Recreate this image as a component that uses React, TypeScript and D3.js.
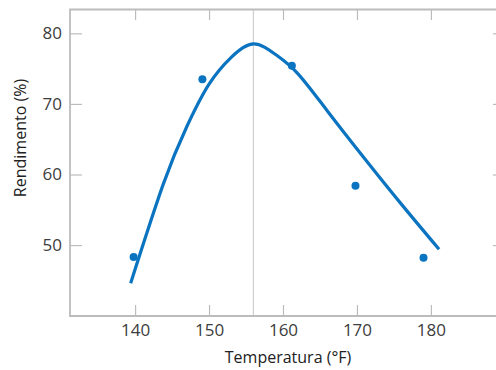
import React, { useRef, useEffect } from 'react';
import * as d3 from 'd3';

// measured points
const tempPts = [139.8, 149.1, 161.2, 169.8, 179.0];
const yieldPts = [48.3, 73.5, 75.4, 58.4, 48.2];

// fitted curve
const curveTemp = [139.4, 143.8, 147.0, 150.0, 153.0, 156.0, 159.0, 162.0, 166.0, 171.0, 176.0, 181.1];
const curveYield = [44.6, 58.6, 66.8, 72.8, 76.6, 78.5, 77.0, 74.3, 69.0, 62.3, 55.8, 49.4];

const xTicks = [140, 150, 160, 170, 180];
const yTicks = [50, 60, 70, 80];
const peakTemp = 156.0;

const App: React.FC = () => {
  const svgRef = useRef<SVGSVGElement | null>(null);

  useEffect(() => {
    const svg = d3.select(svgRef.current);
    svg.selectAll('*').remove();
    const width = 496;
    const height = 370;
    const margin = { top: 9, right: 0, bottom: 54, left: 70 };
    const font = '"Open Sans", sans-serif';
    const axisColor = '#bcbcbc';
    const blue = '#0b74c1';

    const x = d3.scaleLinear().domain([131.2, 188.8]).range([margin.left, width - margin.right]);
    const y = d3.scaleLinear().domain([39.95, 83.45]).range([height - margin.bottom, margin.top]);

    // peak marker
    svg.append('line')
      .attr('x1', x(peakTemp)).attr('x2', x(peakTemp))
      .attr('y1', y.range()[1]).attr('y2', y.range()[0])
      .attr('stroke', '#cfcfcf').attr('stroke-width', 1.2);

    // frame
    const frame = svg.append('g').attr('stroke', axisColor).attr('fill', 'none');
    frame.append('path')
      .attr('d', `M${width},${margin.top + 0.5}H${margin.left}V${height - margin.bottom}H${width}`)
      .attr('stroke-width', 1.8);

    const styleAxis = (g: d3.Selection<SVGGElement, unknown, null, undefined>) => {
      g.select('.domain').remove();
      g.selectAll('.tick line').attr('stroke', axisColor).attr('stroke-width', 1.2);
      g.selectAll('.tick text')
        .attr('fill', '#3d3d3d')
        .style('font-family', font)
        .style('font-size', '17px');
    };

    svg.append('g')
      .attr('transform', `translate(0,${height - margin.bottom})`)
      .call(d3.axisBottom(x).tickValues(xTicks).tickSize(-11).tickPadding(8).tickFormat(d3.format('d')))
      .call(styleAxis);

    svg.append('g')
      .attr('transform', `translate(0,${margin.top})`)
      .call(d3.axisTop(x).tickValues(xTicks).tickSize(-11).tickFormat(() => ''))
      .call(styleAxis);

    svg.append('g')
      .attr('transform', `translate(${margin.left},0)`)
      .call(d3.axisLeft(y).tickValues(yTicks).tickSize(-12).tickPadding(8).tickFormat(d3.format('d')))
      .call(styleAxis);

    svg.append('g')
      .attr('transform', `translate(${width},0)`)
      .call(d3.axisRight(y).tickValues(yTicks).tickSize(-3).tickFormat(() => ''))
      .call(styleAxis);

    // fitted curve
    const curveData = curveTemp.map((t, i) => [t, curveYield[i]] as [number, number]);
    const line = d3.line<[number, number]>()
      .x(d => x(d[0]))
      .y(d => y(d[1]))
      .curve(d3.curveNatural);
    svg.append('path')
      .datum(curveData)
      .attr('d', line)
      .attr('fill', 'none')
      .attr('stroke', blue)
      .attr('stroke-width', 3.2);

    // measured points
    svg.append('g')
      .selectAll('circle')
      .data(tempPts.map((t, i) => [t, yieldPts[i]]))
      .enter()
      .append('circle')
      .attr('cx', d => x(d[0]))
      .attr('cy', d => y(d[1]))
      .attr('r', 4)
      .attr('fill', blue);

    // axis titles
    svg.append('text')
      .attr('x', 288)
      .attr('y', 363)
      .attr('text-anchor', 'middle')
      .attr('fill', '#222')
      .style('font-family', font)
      .style('font-size', '16px')
      .text('Temperatura (°F)');

    svg.append('text')
      .attr('transform', 'translate(26,138) rotate(-90)')
      .attr('text-anchor', 'middle')
      .attr('fill', '#222')
      .style('font-family', font)
      .style('font-size', '16px')
      .text('Rendimento (%)');
  }, []);

  return (
    <svg
      ref={svgRef}
      width={496}
      height={370}
      style={{ position: 'absolute', left: 0, top: 0, background: '#fff' }}
    />
  );
};

export default App;
